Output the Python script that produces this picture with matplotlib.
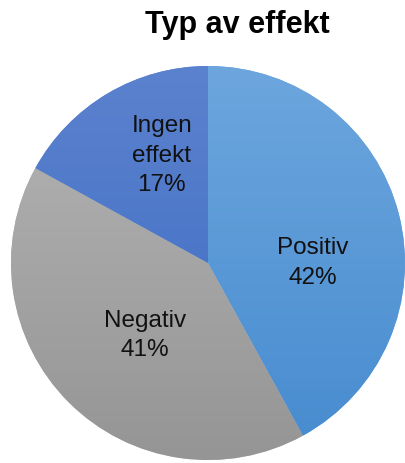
import matplotlib
matplotlib.use("Agg")
import matplotlib.pyplot as plt
import numpy as np
from matplotlib.colors import LinearSegmentedColormap

categories = ["Positiv", "Negativ", "Ingen\neffekt"]
values = [42, 41, 17]
pct_labels = ["42%", "41%", "17%"]
title = "Typ av effekt"

top_colors = ["#6DA6DE", "#B5B5B5", "#5B82CE"]
bottom_colors = ["#468BCF", "#959595", "#3C6AC2"]
label_pos = [(0.53, 0.0), (-0.32, -0.37), (-0.235, 0.545)]

plt.rcParams['font.family'] = ['Liberation Sans', 'DejaVu Sans']

W, H = 406, 463
fig = plt.figure(figsize=(W / 100, H / 100), dpi=100)
cx, cy, r = 208, 263, 197
ax = fig.add_axes([(cx - r) / W, (H - cy - r) / H, 2 * r / W, 2 * r / H])

wedges, _ = ax.pie(values, startangle=90, counterclock=False, radius=1,
                   colors=top_colors, wedgeprops=dict(linewidth=0))
grad = np.linspace(1, 0, 256).reshape(-1, 1)
for w, c1, c2 in zip(wedges, top_colors, bottom_colors):
    cmap = LinearSegmentedColormap.from_list("g", [c2, c1])
    im = ax.imshow(grad, cmap=cmap, extent=[-1, 1, -1, 1], origin='upper',
                   aspect='auto', zorder=w.get_zorder() + 0.1, interpolation='bilinear')
    im.set_clip_path(w)

for (x, y), cat, p in zip(label_pos, categories, pct_labels):
    ax.text(x, y, f"{cat}\n{p}", ha='center', va='center', fontsize=17.5,
            color='#111111', linespacing=1.42, zorder=10)

ax.set_xlim(-1, 1)
ax.set_ylim(-1, 1)
ax.set_aspect('equal')
ax.axis('off')

fig.text(237 / W, 1 - 25 / H, title, ha='center', va='center', fontsize=22,
         fontweight='bold', color='#000000')

fig.savefig("out.png", dpi=100)
